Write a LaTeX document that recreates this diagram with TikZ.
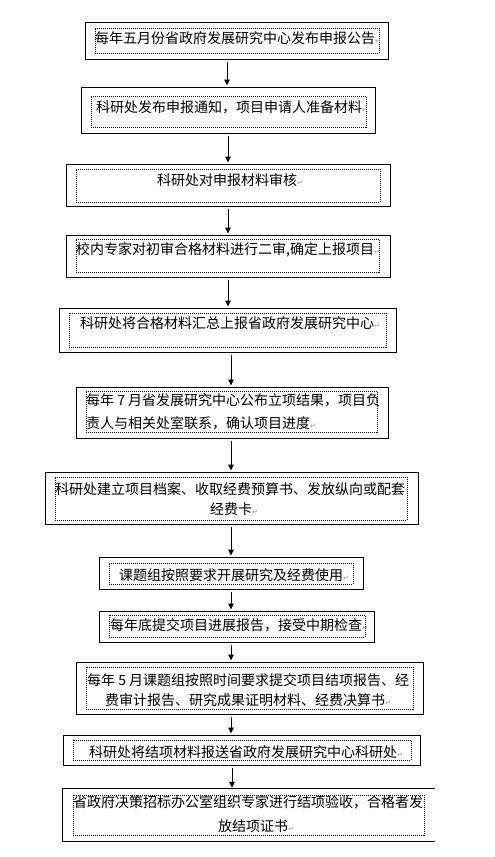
\documentclass[tikz,border=0pt]{standalone}
\usepackage{fontspec}
\newfontfamily\cjk{Noto Sans CJK SC}
\newfontfamily\symfont{DejaVu Sans}
\usepackage{tikz}
\usetikzlibrary{positioning, arrows.meta, fit}
\definecolor{ink}{HTML}{000000}
\definecolor{markgray}{HTML}{9A9A9A}
\newcommand\pmark{{\symfont\fontsize{7}{7}\selectfont\textcolor{markgray}{↵}}}
\tikzset{
  stepbox/.style={draw=ink, line width=1pt, inner sep=0pt},
  openbox/.style={inner sep=0pt},
  dotbox/.style={draw=ink, line width=0.9pt, dash pattern=on 1pt off 1pt, inner sep=0pt},
  txt/.style={font=\cjk\fontsize{14}{14}\selectfont, text=ink, inner sep=0pt, anchor=west},
  flow/.style={-{Triangle[width=5.5pt, length=6pt]}, line width=1pt, draw=ink,
               shorten <=2pt, shorten >=1pt},
}

\begin{document}
\begin{tikzpicture}[x=1pt, y=-1pt]
  \useasboundingbox (0,0) rectangle (495,857);
  % outer boxes
  \node[stepbox, fit={(85,22) (388,59)}] (b1) {};
  \node[stepbox, fit={(81,87) (375,133)}] (b2) {};
  \node[stepbox, fit={(66,164) (390,206)}] (b3) {};
  \node[stepbox, fit={(66,235) (390,277)}] (b4) {};
  \node[stepbox, fit={(59,308) (396,352)}] (b5) {};
  \node[stepbox, fit={(76,387) (388,438)}] (b6) {};
  \node[stepbox, fit={(45,472) (418,524)}] (b7) {};
  \node[stepbox, fit={(99,557) (363,589)}] (b8) {};
  \node[stepbox, fit={(99,611) (374,642)}] (b9) {};
  \node[stepbox, fit={(76,662) (423,714)}] (b10) {};
  \node[stepbox, fit={(63,735) (420,765)}] (b11) {};
  \node[openbox, fit={(63,789) (435,841)}] (b12) {};
  \draw[line width=1pt, draw=ink] (b12.north east) -- (b12.north west)
        -- (b12.south west) -- (b12.south east);
  % dotted text frames
  \node[dotbox, fit={(95,28) (379,53)}] (d1) {};
  \node[dotbox, fit={(91,96) (366,127)}] (d2) {};
  \node[dotbox, fit={(76,169) (380,202)}] (d3) {};
  \node[dotbox, fit={(76,239) (379,272)}] (d4) {};
  \node[dotbox, fit={(69,313) (386,347)}] (d5) {};
  \node[dotbox, fit={(86,391) (377,432)}] (d6) {};
  \node[dotbox, fit={(55,477) (407,520)}] (d7) {};
  \node[dotbox, fit={(109,563) (353,584)}] (d8) {};
  \node[dotbox, fit={(109,615) (365,637)}] (d9) {};
  \node[dotbox, fit={(86,667) (413,709)}] (d10) {};
  \node[dotbox, fit={(73,740) (411,760)}] (d11) {};
  \node[dotbox, fit={(73,795) (424,835)}] (d12) {};
  % texts
  \node[txt] (t1) at (95,38.5) {每年五月份省政府发展研究中心发布申报公告\pmark};
  \node[txt] (t2) at (96,107) {科研处发布申报通知，项目申请人准备材料\pmark};
  \node[txt] (t3) at (157,180) {科研处对申报材料审核\pmark};
  \node[txt] (t4) at (76,250) {校内专家对初审合格材料进行二审,确定上报项目\pmark};
  \node[txt] (t5) at (80,323) {科研处将合格材料汇总上报省政府发展研究中心\pmark};
  \node[txt] (t6a) at (86,400) {每年 7 月省发展研究中心公布立项结果，项目负};
  \node[txt] (t6b) at (86,423) {责人与相关处室联系，确认项目进度\pmark};
  \node[txt] (t7a) at (55,489) {科研处建立项目档案、收取经费预算书、发放纵向或配套};
  \node[txt] (t7b) at (210,509) {经费卡\pmark};
  \node[txt] (t8) at (119,575) {课题组按照要求开展研究及经费使用\pmark};
  \node[txt] (t9) at (110,625) {每年底提交项目进展报告，接受中期检查\pmark};
  \node[txt] (t10a) at (87,680) {每年 5 月课题组按照时间要求提交项目结项报告、经};
  \node[txt] (t10b) at (105,700) {费审计报告、研究成果证明材料、经费决算书\pmark};
  \node[txt] (t11) at (89,752) {科研处将结项材料报送省政府发展研究中心科研处\pmark};
  \node[txt] (t12a) at (73,802) {省政府决策招标办公室组织专家进行结项验收，合格者发};
  \node[txt] (t12b) at (218,826) {放结项证书\pmark};
  % arrows
  \draw[flow] (b1.south -| 227,0) -- (b2.north -| 227,0);
  \draw[flow] (b2.south -| 228,0) -- (b3.north -| 228,0);
  \draw[flow] (b3.south -| 228,0) -- (b4.north -| 228,0);
  \draw[flow] (b4.south -| 228,0) -- (b5.north -| 228,0);
  \draw[flow] (b5.south -| 231,0) -- (b6.north -| 231,0);
  \draw[flow] (b6.south -| 231,0) -- (b7.north -| 231,0);
  \draw[flow] (b7.south -| 231,0) -- (b8.north -| 231,0);
  \draw[flow] (b8.south -| 231,0) -- (b9.north -| 231,0);
  \draw[flow] (b9.south -| 231,0) -- (b10.north -| 231,0);
  \draw[flow] (b10.south -| 231,0) -- (b11.north -| 231,0);
  \draw[flow] (b11.south -| 232,0) -- (b12.north -| 232,0);
\end{tikzpicture}
\end{document}
